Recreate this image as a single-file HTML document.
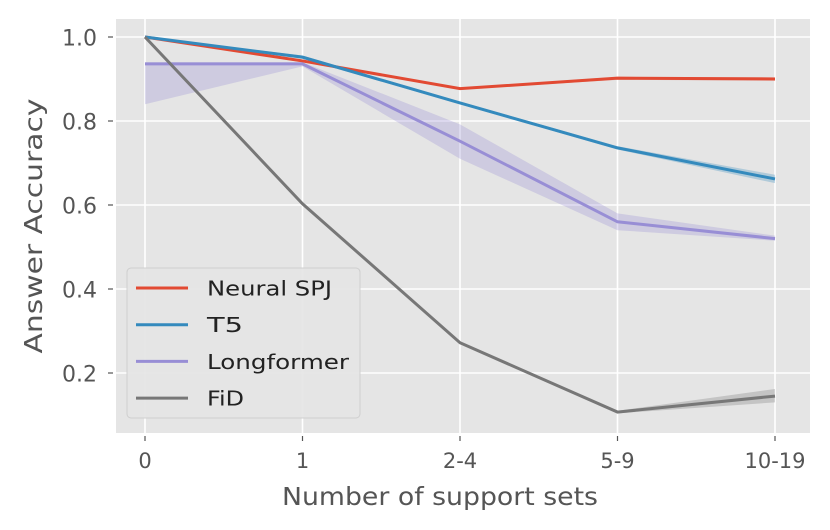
<!DOCTYPE html>
<html><head><meta charset="utf-8"><style>
body{margin:0;background:#fff}
svg{display:block;font-family:"DejaVu Sans","Liberation Sans",sans-serif}
</style></head><body>
<svg id="c" width="830" height="530"></svg>
<script>
const categories=["0","1","2-4","5-9","10-19"];
const yTicks=[0.2,0.4,0.6,0.8,1.0];
const spj=[1.0,0.943,0.877,0.902,0.900];
const spjLo=[1.0,0.940,0.875,0.898,0.896];
const spjHi=[1.0,0.946,0.879,0.905,0.904];
const t5=[1.0,0.952,0.843,0.736,0.662];
const t5Lo=[1.0,0.948,0.840,0.732,0.652];
const t5Hi=[1.0,0.956,0.846,0.740,0.672];
const lf=[0.936,0.936,0.752,0.560,0.520];
const lfLo=[0.840,0.930,0.710,0.540,0.515];
const lfHi=[0.940,0.940,0.792,0.580,0.527];
const fid=[1.0,0.603,0.272,0.107,0.145];
const fidLo=[1.0,0.600,0.270,0.104,0.130];
const fidHi=[1.0,0.606,0.274,0.110,0.162];
const names=["Neural SPJ","T5","Longformer","FiD"];
const legendWidths=[125,36,142,37];
const NS="http://www.w3.org/2000/svg";
const svg=document.getElementById('c');
const L=116,R=810,T=19,B=433;
const x=i=>145+i*157.5;
const y=v=>37+(1.0-v)*(336/0.8);
function el(tag,a,parent){const e=document.createElementNS(NS,tag);for(const k in a)e.setAttribute(k,a[k]);(parent||svg).appendChild(e);return e;}
const bg=el('rect',{x:L,y:T,width:R-L,height:B-T,fill:'#e5e5e5'});


yTicks.forEach(v=>{
 const g=el('line',{x1:L,x2:R,y1:y(v),y2:y(v),stroke:'#fff','stroke-width':1.6});
 
 
 el('line',{x1:L-8,x2:L-3,y1:y(v),y2:y(v),stroke:'#555','stroke-width':1.2});
 const t=el('text',{x:97,y:y(v)+8.5,'text-anchor':'end','font-size':22,fill:'#555'});
 t.textContent=v.toFixed(1);
 
 
});
categories.forEach((c,i)=>{
 const g=el('line',{x1:x(i),x2:x(i),y1:T,y2:B,stroke:'#fff','stroke-width':1.6});
 
 
 el('line',{x1:x(i),x2:x(i),y1:B+3,y2:B+8,stroke:'#555','stroke-width':1.2});
 const t=el('text',{x:x(i),y:468,'text-anchor':'middle','font-size':21,fill:'#555'});
 t.textContent=c;
 
 
});
const series=[[spj,spjLo,spjHi,'#e24a33'],[t5,t5Lo,t5Hi,'#348abd'],[lf,lfLo,lfHi,'#988ed5'],[fid,fidLo,fidHi,'#777777']];
series.forEach(([d,lo,hi,col],k)=>{
 let p=hi.map((v,i)=>x(i)+','+y(v)).join(' ')+' '+lo.map((v,i)=>x(i)+','+y(v)).reverse().join(' ');
 const b=el('polygon',{points:p,fill:col,opacity:0.3});
 
 
 const l=el('polyline',{points:d.map((v,i)=>x(i)+','+y(v)).join(' '),fill:'none',stroke:col,'stroke-width':3});
 
 
});
const lg=el('rect',{x:127,y:268,width:233,height:150,rx:4,fill:'#e5e5e5',stroke:'#ccc','stroke-width':1,opacity:0.9});


series.forEach(([d,lo,hi,col],k)=>{
 const yy=288+k*36.7;
 el('line',{x1:136,x2:188,y1:yy,y2:yy,stroke:col,'stroke-width':3});
 const t=el('text',{x:207,y:yy+7.5,'font-size':20,fill:'#222',textLength:legendWidths[k],lengthAdjust:'spacingAndGlyphs'});
 t.textContent=names[k];
 
 
});
const xt=el('text',{x:440,y:505,'text-anchor':'middle','font-size':25,fill:'#555',textLength:316,lengthAdjust:'spacingAndGlyphs'});
xt.textContent='Number of support sets';


const yt=el('text',{x:0,y:0,'text-anchor':'middle','font-size':25,fill:'#555',textLength:255,lengthAdjust:'spacingAndGlyphs',transform:'translate(42,226) rotate(-90)'});
yt.textContent='Answer Accuracy';


</script>
</body></html>
